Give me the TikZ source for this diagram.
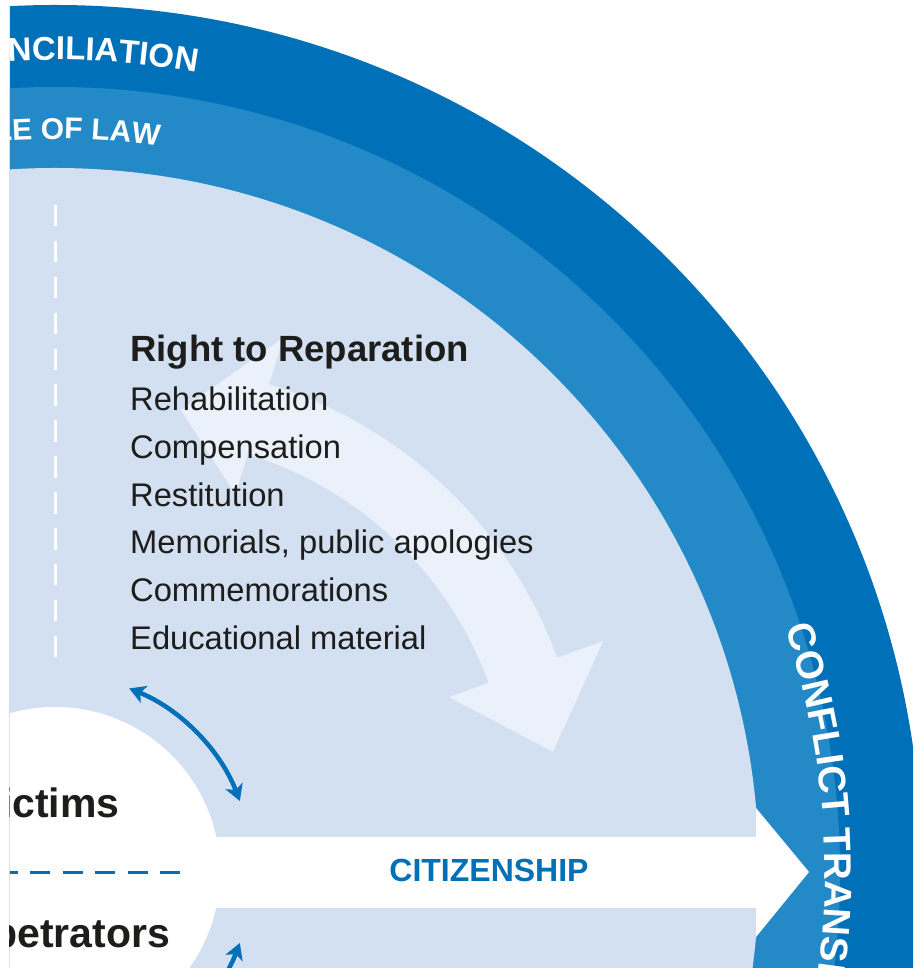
\documentclass[tikz,border=0pt]{standalone}
\usepackage{fontspec}
\setmainfont{Liberation Sans}
\usetikzlibrary{arrows.meta,decorations.text}

\definecolor{ringdark}{HTML}{0071B9}
\definecolor{ringmid}{HTML}{2389C7}
\definecolor{ringlight}{HTML}{D3E0F1}
\definecolor{sweeplight}{HTML}{EBF1FA}
\definecolor{textdark}{HTML}{1D1D1B}

\tikzset{
  heading/.style={anchor=base west,inner sep=0pt,text=textdark,
    font=\fontsize{36.5}{40}\selectfont\bfseries},
  item/.style={anchor=base west,inner sep=0pt,text=textdark,
    font=\fontsize{32.7}{36}\selectfont},
  party/.style={anchor=base,inner sep=0pt,text=textdark,
    font=\fontsize{41}{45}\selectfont\bfseries},
  linkarrow/.style={ringdark,line width=4.5pt,
    {Stealth[length=16pt,width=18pt,inset=4pt]}-{Stealth[length=16pt,width=18pt,inset=4pt]}},
  ringtext/.style={decorate,decoration={text along path,text align=center,
    text={|\color{white}\fontsize{#1}{#1}\selectfont\bfseries|\ringlabel}}},
  sidetext/.style={decorate,decoration={text along path,text align=left,
    text={|\color{white}\fontsize{#1}{#1}\selectfont\bfseries|\ringlabel}}},
}

\begin{document}
\begin{tikzpicture}[x=1pt,y=1pt]
    \useasboundingbox (-55,-96) rectangle (858,872);
    \clip (-45,-96) rectangle (858,872);

    \fill [ringdark]  (0,0) circle [radius=867];
    \fill [ringmid]   (0,0) circle [radius=785];
    \fill [ringlight] (0,0) circle [radius=704];

    \begin{scope}[shift={(84,62)}]
    \fill [sweeplight] (73:445) arc [start angle=73,end angle=20,radius=445]
	-- (20:494) -- (8:418) -- (20:330) -- (20:372)
	arc [start angle=20,end angle=73,radius=372]
	-- (73:330) -- (84:402) -- (73:494) -- cycle;
    \end{scope}

    \fill [white] (0,0) circle [radius=165];
    \fill [white] (0,35) -- (701,35) -- (701,64) -- (754,0)
	-- (701,-65) -- (701,-36) -- (0,-36) -- cycle;

    \draw [white,line width=3pt,dash pattern=on 21.5pt off 14.4pt] (0,667) -- (0,215);
    \draw [ringdark,line width=3pt,dash pattern=on 20pt off 12.5pt] (125,-1) -- (-80,-1);

    \def\ringlabel{RECONCILIATION}
    \path [ringtext=33] (180:812) arc [start angle=180,end angle=0,radius=812];
    \def\ringlabel{RULE OF LAW}
    \path [ringtext=30] (180:733) arc [start angle=180,end angle=0,radius=733];
    \def\ringlabel{CONFLICT TRANSFORMATION}
    \path [sidetext=38.5] (18.5:770) arc [start angle=18.5,end angle=-90,radius=770];

    \path (75,510) node [heading] (title) {Right to Reparation};
    \path (75,461) node [item] (rehab) {Rehabilitation};
    \path (75,413) node [item] (comp) {Compensation};
    \path (75,365) node [item] (restit) {Restitution};
    \path (75,318) node [item] (memor) {Memorials, public apologies};
    \path (75,270) node [item] (commem) {Commemorations};
    \path (75,222) node [item] (edu) {Educational material};

    \path (-8,54) node [party] (victims) {Victims};
    \path (-7,-75) node [party] (perps) {Perpetrators};
    \path (434,-10) node [anchor=base,inner sep=0pt,text=ringdark,
	font=\fontsize{32}{36}\selectfont\bfseries] (citizen) {CITIZENSHIP};

    \coordinate (upA) at (68:198);
    \coordinate (upB) at (21:198);
    \coordinate (lowA) at (-21:198);
    \draw [linkarrow] (upA) arc [start angle=68,end angle=21,radius=198];
    \draw [linkarrow] (lowA) arc [start angle=-21,end angle=-68,radius=198];
\end{tikzpicture}
\end{document}
